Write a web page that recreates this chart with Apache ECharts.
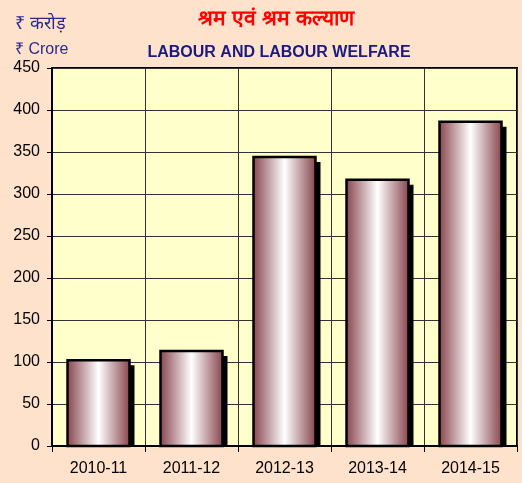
<!DOCTYPE html>
<html>
<head>
<meta charset="utf-8">
<script src="https://cdn.jsdelivr.net/npm/echarts@6/dist/echarts.min.js"></script>
<style>
  html, body { margin: 0; padding: 0; background: #ffe2cb; }
  #main { width: 522px; height: 483px; }
</style>
</head>
<body>
<div id="main"></div>
<script>
const categories = ['2010-11', '2011-12', '2012-13', '2013-14', '2014-15']
const values = [102, 113, 344, 317, 386]
const yTicks = { min: 0, max: 450, interval: 50 }

const chart = echarts.init(document.getElementById('main'))

// bar fill: dark rose on the edges, white in the middle
const barFill = new echarts.graphic.LinearGradient(0, 0, 1, 0, [
  { offset: 0, color: '#9a2a30' },
  { offset: 0.04, color: '#8e5058' },
  { offset: 0.5, color: '#ffffff' },
  { offset: 0.96, color: '#8e5058' },
  { offset: 1, color: '#9a2a30' },
])

/** 柱子 + 右下方黑色投影 */
function renderBar(params, api) {
  const top = api.coord([api.value(0), api.value(1)])
  const base = api.coord([api.value(0), 0])
  const w = 62
  const x = top[0] - w / 2
  const h = base[1] - top[1]
  const off = 5
  return {
    type: 'group',
    children: [
      {
        type: 'rect',
        shape: { x: x + off, y: top[1] + off, width: w, height: Math.max(h - off, 0) },
        style: { fill: '#000' },
      },
      {
        type: 'rect',
        shape: { x: x, y: top[1], width: w, height: h },
        style: { fill: barFill, stroke: '#000', lineWidth: 2.5 },
      },
    ],
  }
}

const option = {
  backgroundColor: '#ffe2cb',
  title: [
    {
      text: 'श्रम एवं श्रम कल्याण',
      left: 271,
      top: 4,
      textAlign: 'center',
      textStyle: { color: '#ff0000', fontSize: 21, fontWeight: 'bold', fontFamily: 'sans-serif' },
    },
    {
      text: 'LABOUR AND LABOUR WELFARE',
      left: 274,
      top: 40,
      textAlign: 'center',
      textStyle: { color: '#1a1a80', fontSize: 16, fontWeight: 'bold', fontFamily: 'Liberation Sans, Arial' },
    },
    {
      text: '₹ करोड़',
      left: 10,
      top: 10,
      textStyle: { color: '#2a2a8c', fontSize: 18, fontWeight: 'normal', fontFamily: 'sans-serif' },
    },
    {
      text: '₹ Crore',
      left: 10,
      top: 37,
      textStyle: { color: '#2a2a8c', fontSize: 16, fontWeight: 'normal', fontFamily: 'Liberation Sans, Arial' },
    },
  ],
  grid: {
    left: 52,
    right: 5,
    top: 68,
    bottom: 37,
    show: true,
    backgroundColor: '#ffffcc',
    borderColor: '#000',
    borderWidth: 2,
  },
  xAxis: {
    type: 'category',
    data: categories,
    axisLine: { lineStyle: { color: '#000', width: 2 } },
    axisTick: { show: true, length: 6, lineStyle: { color: '#000' } },
    axisLabel: { color: '#000', fontSize: 16, margin: 15, fontFamily: 'Liberation Sans, Arial' },
    splitLine: { show: true, lineStyle: { color: '#333', width: 1 } },
  },
  yAxis: {
    type: 'value',
    min: yTicks.min,
    max: yTicks.max,
    interval: yTicks.interval,
    axisLine: { show: true, lineStyle: { color: '#000', width: 2 } },
    axisTick: { show: true, length: 5, lineStyle: { color: '#000' } },
    axisLabel: { color: '#000', fontSize: 16, margin: 12, fontFamily: 'Liberation Sans, Arial' },
    splitLine: { show: true, lineStyle: { color: '#333', width: 1 } },
  },
  series: [
    {
      type: 'custom',
      renderItem: renderBar,
      data: values.map((v, i) => [i, v]),
      silent: true,
      z: 3,
    },
  ],
}

chart.setOption(option)
</script>
</body>
</html>
